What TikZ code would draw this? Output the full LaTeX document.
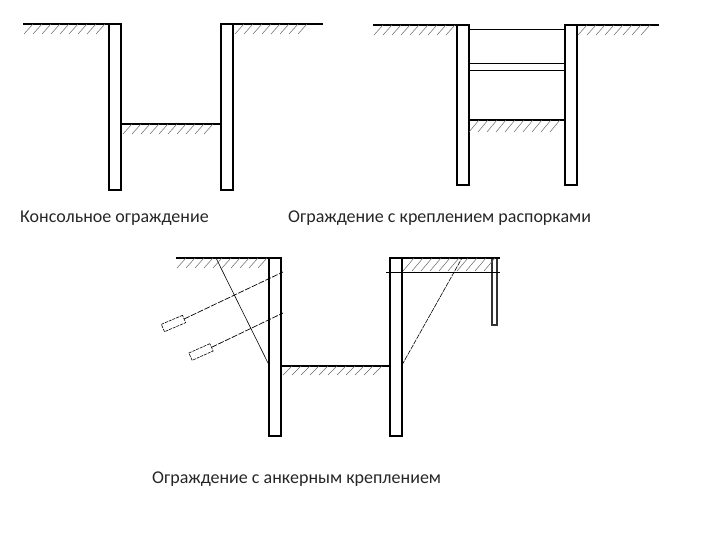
\documentclass[tikz,border=0pt]{standalone}
\usepackage{fontspec}
\setmainfont{Carlito}
\begin{document}
\begin{tikzpicture}[x=1pt, y=-1pt,
    wall/.style={rectangle, draw=black, line width=1.7pt, inner sep=0pt, outer sep=0pt, minimum width=12pt},
    sheet/.style={rectangle, draw=black!80, line width=1.2pt, inner sep=0pt, outer sep=0pt, minimum width=5pt},
    ground/.style={line width=1.5pt, draw=black},
    hatch/.style={line width=0.5pt, draw=black!60},
    thinline/.style={line width=0.8pt, draw=black},
    slip/.style={line width=0.6pt, draw=black, dash pattern=on 5pt off 1pt},
    anchorline/.style={line width=0.7pt, draw=black, dash pattern=on 6pt off 1.5pt},
    anchorbox/.style={draw=black, dash pattern=on 3pt off 1pt, line width=0.6pt, minimum width=23pt, minimum height=8pt, inner sep=0pt, outer sep=0pt},
    title/.style={anchor=west, inner sep=0pt, font=\fontsize{18}{20}\selectfont, text=black!85}]
    \useasboundingbox (0,0) rectangle (720,540);

    % first pit
    \node[wall, minimum height=166pt] (w1) at (115,107) {};
    \node[wall, minimum height=166pt] (w2) at (227,107) {};
    \coordinate (g1) at (23,24);
    \coordinate (g2) at (323,24);
    \draw[ground] (g1) -- (w1.north west);
    \draw[ground] (w2.north east) -- (g2);
    \draw[ground] (w1.east |- 0,124) -- (w2.west |- 0,124);
    \foreach \hx in {24,33,...,96} \draw[hatch] (\hx,34) -- ++(9,-10);
    \foreach \hx in {235,244,...,304} \draw[hatch] (\hx,34) -- ++(9,-10);
    \foreach \hx in {123,132,...,204} \draw[hatch] (\hx,134) -- ++(9,-10);
    \node[title] (t1) at (20,218) {Консольное ограждение};

    % second pit, strutted
    \node[wall, minimum height=160pt] (w3) at (463,105) {};
    \node[wall, minimum height=160pt] (w4) at (571,105) {};
    \coordinate (g3) at (373,25);
    \coordinate (g4) at (659,25);
    \draw[ground] (g3) -- (w3.north west);
    \draw[ground] (w4.north east) -- (g4);
    \draw[ground] (w3.east |- 0,120) -- (w4.west |- 0,120);
    \draw[thinline] (w3.east |- 0,29) -- (w4.west |- 0,29);
    \draw[thinline] (w3.east |- 0,63) -- (w4.west |- 0,63);
    \draw[thinline] (w3.east |- 0,70) -- (w4.west |- 0,70);
    \foreach \hx in {374,383,...,446} \draw[hatch] (\hx,35) -- ++(9,-10);
    \foreach \hx in {578,587,...,646} \draw[hatch] (\hx,35) -- ++(9,-10);
    \foreach \hx in {469,478,...,550} \draw[hatch] (\hx,132) -- ++(10,-12);
    \node[title] (t2) at (288,218) {Ограждение с креплением распорками};

    % third pit, anchored
    \node[wall, minimum height=178pt] (w5) at (275,347) {};
    \node[wall, minimum height=178pt] (w6) at (396,347) {};
    \node[sheet, minimum height=67pt] (s1) at (494.5,291.5) {};
    \coordinate (g5) at (176,258);
    \coordinate (g6) at (500,258);
    \draw[ground] (g5) -- (w5.north west);
    \draw[ground] (w6.north east) -- (g6);
    \draw[ground] (w5.east |- 0,366) -- (w6.west |- 0,366);
    \foreach \hx in {177,186,...,258} \draw[hatch] (\hx,268) -- ++(9,-10);
    \foreach \hx in {283,292,...,373} \draw[hatch] (\hx,375) -- ++(9,-9);
    \foreach \hx in {403,412,...,484} \draw[hatch] (\hx,271) -- ++(11,-13);

    % slip planes
    \coordinate (p1) at (216,258);
    \coordinate (p2) at (462,258);
    \draw[thinline, line width=0.6pt] (p1) -- (w5.west |- 0,365);
    \draw[slip] (w6.east |- 0,365) -- (p2);
    \coordinate (b1) at (386,272);
    \coordinate (b2) at (500,272);
    \draw[thinline] (b1) -- (b2);

    % anchors
    \node[anchorbox, rotate=23] (a1) at (173.5,323.5) {};
    \node[anchorbox, rotate=24] (a2) at (201,352) {};
    \coordinate (e1) at (283,272);
    \coordinate (e2) at (283,313);
    \draw[anchorline] (a1.east) -- (e1);
    \draw[anchorline] (a2.east) -- (e2);
    \node[title] (t3) at (152,479.5) {Ограждение с анкерным креплением};
  \end{tikzpicture}
\end{document}
